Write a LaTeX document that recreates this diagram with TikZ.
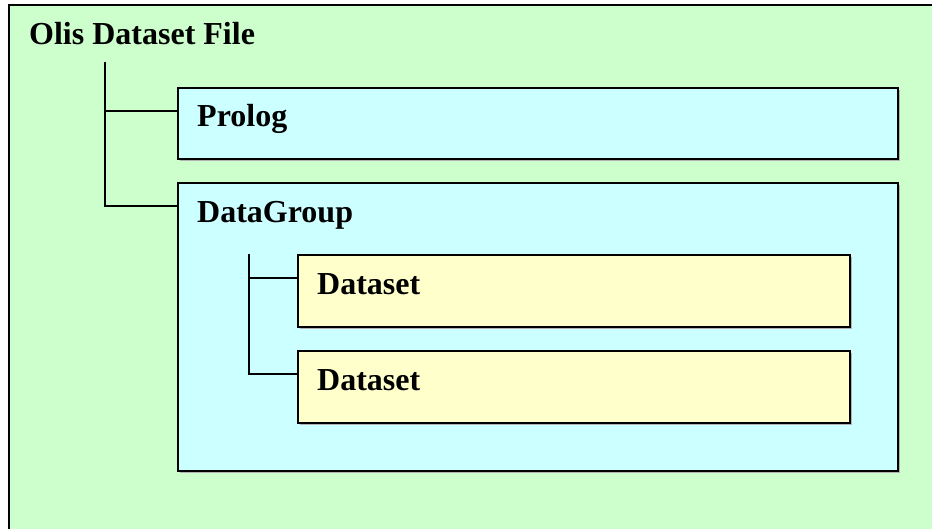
\documentclass[tikz,border=0pt]{standalone}
\usepackage{fontspec}
\setmainfont{Liberation Serif}
\usetikzlibrary{positioning,shadows}
\definecolor{filegreen}{HTML}{CCFFCC}
\definecolor{groupcyan}{HTML}{CCFFFF}
\definecolor{setyellow}{HTML}{FFFFCC}
\tikzset{
  box/.style={draw=black, line width=2pt, anchor=north west, inner sep=0pt,
    drop shadow={shadow xshift=2pt, shadow yshift=-2pt, fill=black!30, opacity=1}},
  boxlabel/.style={anchor=base west, inner sep=0pt, font=\fontsize{32}{38}\selectfont\bfseries},
  tree/.style={draw=black, line width=2pt}
}
\begin{document}
\begin{tikzpicture}[x=1pt,y=-1pt]
  \useasboundingbox (0,0) rectangle (932,529);
  \clip (0,0) rectangle (932,529);

  % Drawing file box
  \node[box, fill=filegreen, minimum width=940pt, minimum height=540pt] (file) at (8,4) {};
  \node[boxlabel] (filetext) at ([xshift=21pt,yshift=-41pt]file.north west) {Olis Dataset File};
  \coordinate (fileroot) at (105,62);

  % Drawing prolog box
  \node[box, fill=groupcyan, minimum width=720pt, minimum height=71pt] (prolog) at (177,87) {};
  \node[boxlabel] (prologtext) at ([xshift=20pt,yshift=-40pt]prolog.north west) {Prolog};

  % Drawing datagroup box
  \node[box, fill=groupcyan, minimum width=720pt, minimum height=288pt] (group) at (177,182) {};
  \node[boxlabel] (grouptext) at ([xshift=20pt,yshift=-41pt]group.north west) {DataGroup};
  \coordinate (grouproot) at (249,254);

  % Drawing dataset boxes
  \node[box, fill=setyellow, minimum width=552pt, minimum height=72pt] (setA) at (297,254) {};
  \node[boxlabel] (setAtext) at ([xshift=20pt,yshift=-41pt]setA.north west) {Dataset};
  \node[box, fill=setyellow, minimum width=552pt, minimum height=72pt] (setB) at (297,350) {};
  \node[boxlabel] (setBtext) at ([xshift=20pt,yshift=-41pt]setB.north west) {Dataset};

  % Drawing tree lines
  \draw[tree] (fileroot) |- ([yshift=-24pt]prolog.north west);
  \draw[tree] (fileroot) |- ([yshift=-24pt]group.north west);
  \draw[tree] (grouproot) |- ([yshift=-24pt]setA.north west);
  \draw[tree] (grouproot) |- ([yshift=-24pt]setB.north west);
\end{tikzpicture}
\end{document}
